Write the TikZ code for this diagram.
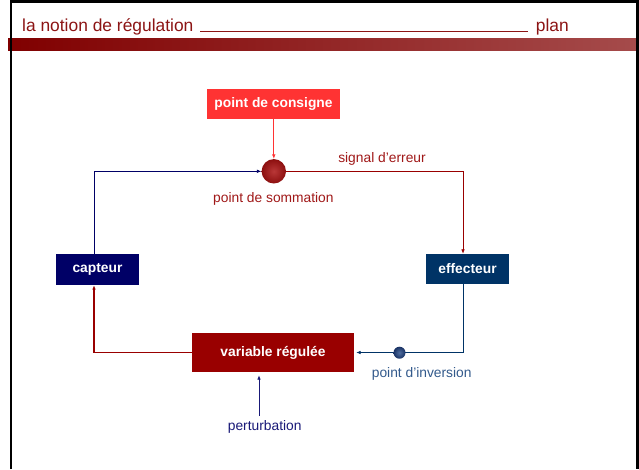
\documentclass[tikz,border=0pt]{standalone}
\usepackage{fontspec}
\setmainfont{Liberation Sans}
\usetikzlibrary{arrows.meta,calc}
\definecolor{titlered}{RGB}{140,20,20}
\definecolor{bandL}{RGB}{128,0,0}
\definecolor{bandR}{RGB}{165,75,75}
\definecolor{consred}{RGB}{255,51,51}
\definecolor{darkred}{RGB}{153,0,0}
\definecolor{labred}{RGB}{160,24,24}
\definecolor{sumin}{RGB}{185,55,55}
\definecolor{sumout}{RGB}{140,15,15}
\definecolor{navy}{RGB}{0,0,102}
\definecolor{effblue}{RGB}{0,51,102}
\definecolor{invblue}{RGB}{51,90,140}
\definecolor{invin}{RGB}{80,110,160}
\definecolor{invout}{RGB}{25,50,100}
\definecolor{pertblue}{RGB}{25,25,120}
\tikzset{
  x=1pt, y=-1pt,
  box/.style={rectangle, inner sep=0pt, text=white, font=\fontsize{13.8}{16}\selectfont\bfseries},
  lab/.style={inner sep=0pt, font=\fontsize{13.8}{16}\selectfont},
  tip/.style={-{Latex[length=4.5pt,width=3.6pt]}},
}
\begin{document}
\begin{tikzpicture}
\useasboundingbox (0,0) rectangle (639,469);
\fill[white] (0,0) rectangle (639,469);
% title band
\shade[left color=bandL, right color=bandR] (8,38) rectangle (637,50);
\node[anchor=base west, inner sep=0pt, text=titlered, font=\fontsize{17.4}{20}\selectfont] (title) at (22,31) {la notion de régulation};
\node[anchor=base east, inner sep=0pt, text=titlered, font=\fontsize{17.4}{20}\selectfont] (plan) at (569,31) {plan};
\draw[titlered, line width=1pt] (200,31.5) -- (528,31.5);
% frame
\draw[black, line width=2.6pt] (11,469) -- (11,1.3) -- (637.7,1.3) -- (637.7,469);
% nodes
\node[box, fill=consred, minimum width=133pt, minimum height=30pt] (cons) at (273.5,104) {point de consigne};
\node[circle, inner sep=0pt, minimum size=24.4pt, inner color=sumin, outer color=sumout] (sum) at (273.8,171.3) {};
\node[box, fill=effblue, minimum width=83pt, minimum height=30pt] (eff) at (467.5,269) {effecteur};
\node[box, fill=navy, minimum width=83pt, minimum height=31pt] (cap) at (97.5,269.5) {capteur};
\node[box, fill=darkred, minimum width=162pt, minimum height=39pt] (var) at (273,352.5) {variable régulée};
% labels
\node[lab, text=labred] (sig) at (382,159) {signal d’erreur};
\node[lab, text=labred] (som) at (273.4,199) {point de sommation};
\node[lab, text=invblue] (invl) at (421.7,374) {point d’inversion};
\node[lab, text=pertblue] (pert) at (264.7,427) {perturbation};
\coordinate (pbot) at (259,416);
% connectors
\draw[tip, consred, line width=0.8pt] (sum |- cons.south) -- (sum.north);
\draw[tip, darkred, line width=0.8pt] (sum.east) -| ([xshift=-4.5pt]eff.north);
\draw[tip, navy, line width=0.8pt] ([xshift=-3.5pt]cap.north) |- (sum.west);
\draw[tip, effblue, line width=0.8pt] ([xshift=-4pt]eff.south) |- ([xshift=2pt]var.east);
\draw[tip, darkred, line width=1.8pt] (var.west) -| ([xshift=-3.5pt]cap.south);
\draw[tip, pertblue, line width=0.8pt, shorten >=3pt] (pbot) -- (pbot |- var.south);
\node[circle, inner sep=0pt, minimum size=12pt, inner color=invin, outer color=invout] (inv) at (399.5,352.7) {};
\end{tikzpicture}
\end{document}
